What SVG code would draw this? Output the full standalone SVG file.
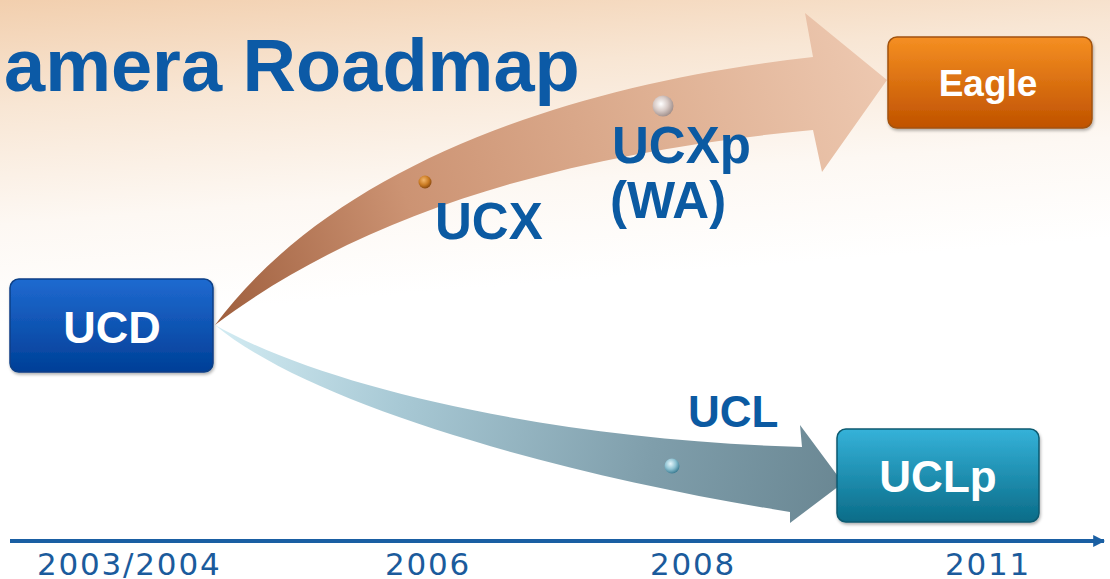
<svg xmlns="http://www.w3.org/2000/svg" width="1110" height="579" viewBox="0 0 1110 579">
  <defs>
    <linearGradient id="bg" x1="0" y1="0" x2="0.15" y2="1">
      <stop offset="0" stop-color="#f2cfae"/>
      <stop offset="0.18" stop-color="#f8e6d4"/>
      <stop offset="0.38" stop-color="#fdf8f3"/>
      <stop offset="0.55" stop-color="#ffffff"/>
    </linearGradient>
    <linearGradient id="topArrow" gradientUnits="userSpaceOnUse" x1="215" y1="300" x2="890" y2="90">
      <stop offset="0" stop-color="#a0603f"/>
      <stop offset="0.3" stop-color="#cc9373"/>
      <stop offset="0.7" stop-color="#e0b295"/>
      <stop offset="1" stop-color="#edc8b0"/>
    </linearGradient>
    <linearGradient id="botArrow" gradientUnits="userSpaceOnUse" x1="215" y1="330" x2="845" y2="480">
      <stop offset="0" stop-color="#d3ecf3"/>
      <stop offset="0.3" stop-color="#a8c9d5"/>
      <stop offset="0.7" stop-color="#7f9eab"/>
      <stop offset="1" stop-color="#6a8793"/>
    </linearGradient>
    <linearGradient id="gBlue" x1="0" y1="0" x2="0" y2="1">
      <stop offset="0" stop-color="#1f6ad0"/>
      <stop offset="1" stop-color="#003f97"/>
    </linearGradient>
    <linearGradient id="gOrange" x1="0" y1="0" x2="0" y2="1">
      <stop offset="0" stop-color="#f58f22"/>
      <stop offset="1" stop-color="#c05200"/>
    </linearGradient>
    <linearGradient id="gTeal" x1="0" y1="0" x2="0" y2="1">
      <stop offset="0" stop-color="#35b2d9"/>
      <stop offset="1" stop-color="#0a6c88"/>
    </linearGradient>
    <radialGradient id="dotBronze" cx="0.4" cy="0.35" r="0.65">
      <stop offset="0" stop-color="#f3b56a"/>
      <stop offset="0.6" stop-color="#c97a22"/>
      <stop offset="1" stop-color="#8a4a10"/>
    </radialGradient>
    <radialGradient id="dotPearl" cx="0.4" cy="0.4" r="0.65">
      <stop offset="0" stop-color="#ffffff"/>
      <stop offset="0.5" stop-color="#d9ccc8"/>
      <stop offset="1" stop-color="#9c8a86"/>
    </radialGradient>
    <radialGradient id="dotBlue" cx="0.4" cy="0.35" r="0.65">
      <stop offset="0" stop-color="#e6f6fb"/>
      <stop offset="0.55" stop-color="#8fc3d3"/>
      <stop offset="1" stop-color="#3f7f95"/>
    </radialGradient>
    <marker id="axisHead" viewBox="0 0 10 10" refX="9" refY="5" markerWidth="3" markerHeight="3" orient="auto">
      <path d="M0,0 L10,5 L0,10 z" fill="#1a5fa3"/>
    </marker>
    <filter id="shadow" x="-10%" y="-10%" width="125%" height="130%">
      <feDropShadow dx="1" dy="2" stdDeviation="1.5" flood-color="#000" flood-opacity="0.3"/>
    </filter>
  </defs>
  <style>
    .title { font-family: "Liberation Sans", Arial, sans-serif; font-weight: bold; fill: #0c5aa6; }
    .lbl { font-family: "Liberation Sans", Arial, sans-serif; font-weight: bold; fill: #0b5aa2; }
    .boxtxt { font-family: "Liberation Sans", Arial, sans-serif; font-weight: bold; fill: #ffffff; text-anchor: middle; }
    .year { font-family: "DejaVu Sans", Verdana, sans-serif; font-size: 31px; fill: #1b5b9c; letter-spacing: 1.8px; }
  </style>

  <rect x="0" y="0" width="1110" height="579" fill="url(#bg)"/>

  <text class="title" x="4" y="91" font-size="74">amera Roadmap</text>

  <g id="connectors">
    <path id="arrow-ucd-eagle" d="M215,325 C330,170 560,85 813,57 L805,13 L887,80 L822,172 L813,130 C600,150 380,200 215,325 Z" fill="url(#topArrow)"/>
    <path id="arrow-ucd-uclp" d="M215,325 C330,390 560,440 802,447 L800,425 L843,483 L790,523 L790,512 C560,475 310,405 215,325 Z" fill="url(#botArrow)"/>
    <line id="timeline" x1="10" y1="541" x2="1104" y2="541" stroke="#1a5fa3" stroke-width="4" marker-end="url(#axisHead)"/>
  </g>

  <g id="milestones">
    <circle cx="425" cy="182" r="6.5" fill="url(#dotBronze)"/>
    <circle cx="663" cy="106" r="10.5" fill="url(#dotPearl)"/>
    <circle cx="672" cy="466" r="7.5" fill="url(#dotBlue)"/>
  </g>

  <g id="ucd">
    <rect x="10" y="279" width="203" height="93" rx="9" fill="url(#gBlue)" stroke="#0a3f86" stroke-width="1.5" filter="url(#shadow)"/>
    <text class="boxtxt" x="112" y="343" font-size="45">UCD</text>
  </g>

  <g id="eagle">
    <rect x="888" y="37" width="204" height="91" rx="9" fill="url(#gOrange)" stroke="#a2520e" stroke-width="1.5" filter="url(#shadow)"/>
    <text class="boxtxt" x="988" y="96" font-size="37">Eagle</text>
  </g>

  <g id="uclp">
    <rect x="837" y="429" width="202" height="93" rx="9" fill="url(#gTeal)" stroke="#0a5a70" stroke-width="1.5" filter="url(#shadow)"/>
    <text class="boxtxt" x="938" y="492" font-size="44">UCLp</text>
  </g>

  <g id="ucx">
    <text class="lbl" x="435" y="239" font-size="51">UCX</text>
  </g>
  <g id="ucxp">
    <text class="lbl" x="612" y="163" font-size="51">UCXp</text>
    <text class="lbl" x="610" y="218" font-size="51">(WA)</text>
  </g>
  <g id="ucl">
    <text class="lbl" x="688" y="427" font-size="44">UCL</text>
  </g>

  <g id="years">
    <text class="year" x="37" y="575">2003/2004</text>
    <text class="year" x="385" y="575">2006</text>
    <text class="year" x="650" y="575">2008</text>
    <text class="year" x="945" y="575">2011</text>
  </g>
</svg>
